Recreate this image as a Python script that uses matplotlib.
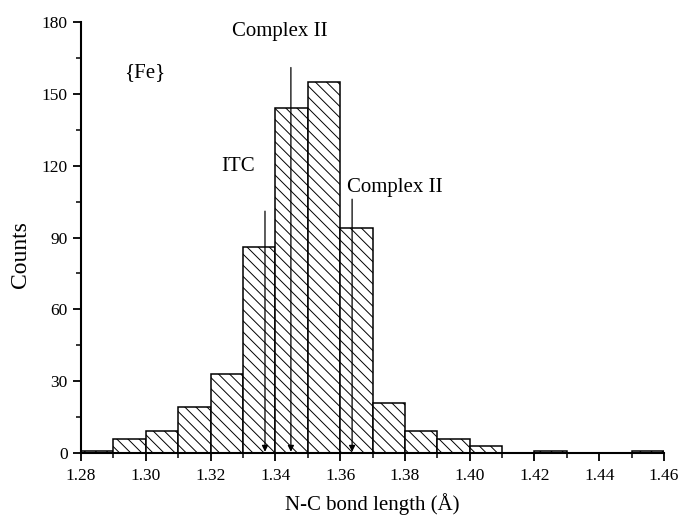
import numpy as np
import matplotlib.pyplot as plt

plt.rcParams['font.family'] = ['Liberation Serif', 'DejaVu Serif']
plt.rcParams['hatch.linewidth'] = 0.7

# histogram data (bin left edges, width 0.01)
bin_left = [1.28, 1.29, 1.30, 1.31, 1.32, 1.33, 1.34, 1.35, 1.36, 1.37,
            1.38, 1.39, 1.40, 1.42, 1.45]
counts = [1, 6, 9, 19, 33, 86, 144, 155, 94, 21, 9, 6, 3, 1, 1]
bin_w = 0.01

# marked bond lengths
marks = ["ITC", "Complex II", "Complex II"]
mark_x = [1.3368, 1.3448, 1.3637]
mark_top = [101, 161, 106]

fig = plt.figure(figsize=(6.81, 5.18), dpi=100)
ax = fig.add_axes([0.119, 0.1255, 0.856, 0.832])

ax.bar(bin_left, counts, width=bin_w, align='edge', color='white',
       edgecolor='black', linewidth=1.1, hatch='\\\\\\')

for x, top in zip(mark_x, mark_top):
    ax.annotate('', xy=(x, 0.5), xytext=(x, top),
                arrowprops=dict(arrowstyle='-|>', color='black', lw=0.9,
                                mutation_scale=9, shrinkA=0, shrinkB=0))

ax.text(1.3285, 119.5, marks[0], ha='center', va='center', fontsize=15)
ax.text(1.3414, 176, marks[1], ha='center', va='center', fontsize=15)
ax.text(1.3621, 111, marks[2], ha='left', va='center', fontsize=15)
ax.text(1.2998, 158.7, "{Fe}", ha='center', va='center', fontsize=15)

ax.set_xlim(1.28, 1.46)
ax.set_ylim(0, 180)
ax.set_xticks(np.arange(1.28, 1.461, 0.02))
ax.set_xticks(np.arange(1.29, 1.46, 0.02), minor=True)
ax.set_yticks(np.arange(0, 181, 30))
ax.set_yticks(np.arange(15, 180, 30), minor=True)
ax.xaxis.set_major_formatter(plt.FormatStrFormatter('%.2f'))

for s in ['top', 'right']:
    ax.spines[s].set_visible(False)
for s in ['left', 'bottom']:
    ax.spines[s].set_linewidth(1.5)

ax.tick_params(axis='both', which='major', direction='out', length=6,
               width=1.3, labelsize=12.5)
ax.tick_params(axis='both', which='minor', direction='out', length=3.5,
               width=1.1)
ax.tick_params(axis='x', pad=5)

ax.set_xlabel("N-C bond length (Å)", fontsize=15, labelpad=6)
ax.set_ylabel("Counts", fontsize=17)
ax.yaxis.set_label_coords(-0.085, 0.46)

fig.savefig("out.png", dpi=100)
